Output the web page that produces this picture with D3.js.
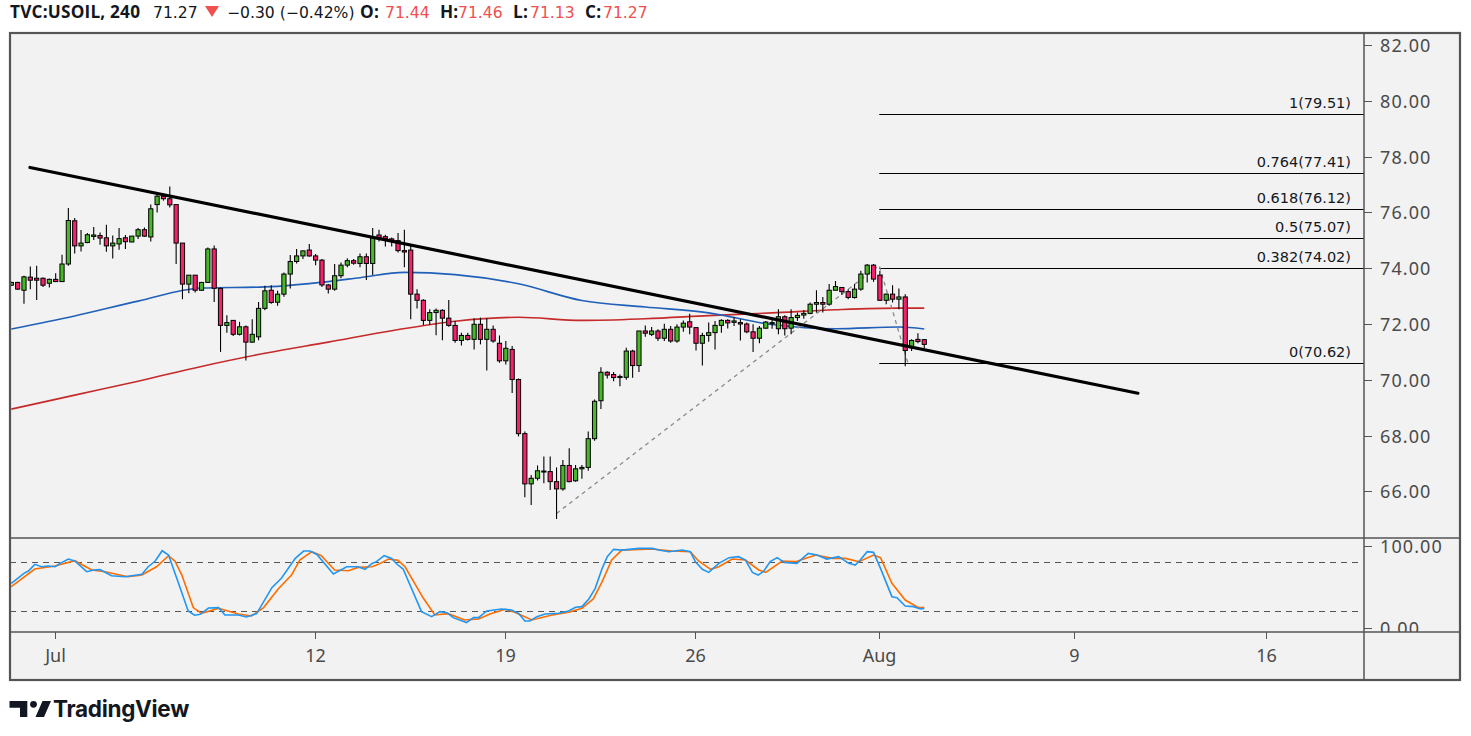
<!DOCTYPE html>
<html><head><meta charset="utf-8">
<script src="https://cdn.jsdelivr.net/npm/d3@7"></script>
<style>html,body{margin:0;padding:0;background:#fff;}svg{display:block;}</style>
</head><body>
<svg id="c" width="1471" height="736"></svg>
<script>
// ---------- DATA ----------
const opens  = [73.39,73.49,73.21,73.68,73.64,73.64,73.46,73.60,73.52,74.15,75.70,74.80,74.92,75.14,75.17,75.09,74.80,74.87,75.09,74.94,75.15,75.38,75.12,76.28,76.58,76.49,76.28,74.90,73.43,73.75,73.21,73.49,74.69,73.27,71.95,72.13,71.63,71.90,71.35,71.54,72.56,73.21,72.78,73.07,73.79,74.24,74.44,74.65,74.44,74.29,73.40,73.25,73.73,74.11,74.27,74.17,74.41,74.17,75.19,75.13,75.05,74.99,74.63,74.65,73.07,72.85,72.13,72.41,72.49,72.21,71.95,71.41,71.59,71.45,71.99,71.45,71.81,71.31,70.68,71.09,70.01,68.07,66.27,66.47,66.71,66.71,66.35,66.09,66.93,66.38,66.81,66.86,67.89,69.25,70.27,70.19,70.08,70.09,71.03,70.51,71.75,71.63,71.75,71.49,71.81,71.39,71.89,72.08,71.87,71.31,71.59,71.69,71.95,72.13,72.06,72.05,72.00,71.72,71.49,71.85,72.01,71.83,72.26,71.85,72.23,72.32,72.38,72.71,72.77,72.71,73.21,73.31,73.16,72.95,73.25,73.79,74.11,73.75,72.85,73.07,72.89,72.97,71.15,71.45,71.44];
const highs  = [73.51,73.51,73.73,74.06,74.09,73.67,73.63,73.82,74.48,76.16,75.80,75.37,75.26,75.48,75.28,75.56,75.17,75.44,75.19,75.15,75.44,75.46,76.28,76.67,76.67,76.93,76.28,74.90,73.75,73.75,73.51,74.74,74.81,73.31,72.31,72.13,72.08,71.95,72.17,72.79,73.37,73.39,73.19,73.85,74.47,74.69,74.63,74.87,74.51,74.33,73.43,74.15,74.20,74.36,74.33,74.53,74.53,75.44,75.38,75.20,75.10,75.26,75.38,74.81,73.25,72.89,72.53,72.56,72.53,72.86,72.11,71.69,71.69,72.21,72.23,72.21,71.95,71.59,71.39,71.21,70.05,68.15,66.59,66.93,67.25,67.25,66.86,67.13,67.55,66.95,66.95,68.15,69.29,70.45,70.31,70.28,70.19,71.15,71.08,71.75,71.95,71.89,71.81,72.01,71.93,71.99,72.13,72.37,71.89,71.69,72.05,72.11,72.17,72.17,72.25,72.17,72.05,71.99,71.93,72.11,72.19,72.53,72.31,72.53,72.41,72.50,72.77,73.21,72.97,73.43,73.54,73.33,73.25,73.43,73.91,74.15,74.15,73.91,73.09,73.39,73.27,73.07,71.45,71.67,71.46];
const lows   = [73.37,73.22,72.73,73.25,72.86,73.33,73.31,73.51,73.52,74.09,74.53,74.60,74.89,75.01,74.84,74.59,74.35,74.66,74.69,74.93,75.05,75.13,74.96,76.00,76.42,76.18,74.15,72.89,73.10,73.13,73.19,73.49,72.79,71.00,71.69,71.57,71.59,70.69,71.33,71.42,72.49,72.73,72.65,72.98,73.27,74.17,74.33,74.41,74.11,73.33,73.09,73.19,73.64,74.03,74.12,74.03,73.58,73.76,74.96,74.78,74.78,74.56,74.03,72.17,72.56,71.96,71.96,71.60,71.42,71.90,71.33,71.23,71.41,71.09,71.27,70.33,71.33,70.61,70.55,69.53,67.97,65.79,65.51,66.39,66.29,66.05,65.01,66.02,66.33,66.35,66.45,66.74,67.82,68.95,70.05,69.95,69.77,70.00,70.07,70.28,71.54,71.57,71.39,71.39,71.33,71.33,71.72,71.63,71.05,70.51,71.36,71.09,71.69,71.84,71.93,71.41,71.67,71.00,71.31,71.83,71.83,71.63,71.59,71.63,72.11,72.19,72.35,72.41,72.41,72.65,73.21,73.04,72.89,72.91,73.19,73.49,73.51,72.83,72.71,72.77,72.53,70.49,71.03,71.31,71.13];
const closes = [73.49,73.25,73.69,73.57,73.57,73.39,73.60,73.52,74.15,75.71,74.80,74.90,75.20,75.19,75.08,74.80,74.90,75.06,74.95,75.15,75.38,75.15,76.13,76.58,76.49,76.27,74.90,73.43,73.75,73.21,73.49,74.69,73.28,71.95,72.05,71.63,71.90,71.35,71.63,72.56,73.19,72.77,73.07,73.79,74.24,74.44,74.62,74.44,74.29,73.40,73.25,73.73,74.11,74.27,74.18,74.41,74.17,75.10,75.10,75.05,74.96,74.63,74.58,73.07,72.85,72.13,72.41,72.49,72.21,71.95,71.41,71.59,71.45,71.99,71.45,71.81,71.39,70.68,71.13,70.01,68.07,66.27,66.47,66.74,66.73,66.35,66.09,66.93,66.35,66.81,66.86,67.89,69.23,70.27,70.17,70.08,70.12,71.03,70.51,71.75,71.67,71.75,71.49,71.81,71.39,71.89,72.03,71.89,71.31,71.59,71.69,71.95,72.13,72.04,72.11,72.00,71.72,71.49,71.85,72.07,72.05,72.26,71.83,72.23,72.31,72.38,72.71,72.77,72.71,73.21,73.34,73.16,72.95,73.25,73.79,74.11,73.61,72.85,73.07,72.89,72.97,71.05,71.41,71.37,71.27];

// moving averages, sampled at candle indices
const blueIdx = [0,10,20,30,40,50,55,62,70,80,90,100,110,120,130,140,144];
const blueVal = [71.82,72.29,72.82,73.29,73.33,73.52,73.66,73.85,73.77,73.44,72.84,72.61,72.40,71.98,71.83,71.89,71.82];
const redIdx  = [0,10,20,30,40,50,60,70,80,90,100,110,120,130,140,144];
const redVal  = [68.95,69.45,69.95,70.48,70.95,71.35,71.76,72.10,72.24,72.13,72.19,72.30,72.40,72.51,72.57,72.57];

// stochastic %K and %D (index, value)
const kIdx = [0,2,2.7,3.7,4.8,5.8,6.9,7.7,9,10,11.9,13,14,15.8,17.9,20.6,21.6,22.7,23.8,24.8,26.1,27.9,28.9,29.8,31.1,32.7,33.7,35.8,37.1,38.7,41.1,42.6,44.8,46.1,47.1,48.2,50.8,52.9,54.7,55.8,56.9,57.6,58.8,60,60.8,61.8,64.7,66.3,67.6,68.7,69.7,71.8,72.9,73.7,75,77.3,78.9,80,81,81.8,82.9,84.2,86.3,87.9,89,90,91.1,92.1,93.2,94,95,96.3,99,101.1,102.1,103.7,105.8,107.1,107.9,109,110,111.6,113.2,114.7,115.8,116.9,117.8,118.7,119.7,120.8,121.9,123.9,125.7,127.1,128.6,130.5,132.1,133.1,133.9,135,136,137.1,138.9,139.7,141,142.3,143.4,144];
const kVal = [54.2,66.5,69.3,77.5,74.6,75.5,74.6,78.7,84,81.6,68.5,70.6,71,63.6,62.4,65.3,74.6,81.6,94.2,88.9,60.4,20.4,15.1,16.3,24,24.5,15.5,15.5,13,17.1,48.9,60.4,84.8,93.8,93.8,89.7,65.7,74.6,74.6,71.4,78.7,80.8,88.1,84.8,77.9,71.8,19.6,13.4,19.6,18.3,12.2,6.1,12.2,12.2,20.4,22.8,21.6,17.5,8.1,8.1,13.4,16.7,17.5,20.4,24.9,25.7,35.1,48.1,72.6,86.9,95.9,95,97.1,97.1,95,93,95,93,80.8,71.4,67.7,78.7,85.7,86.9,82.8,67.7,64.4,69.3,80.8,85.7,79.9,78.7,91,88.9,84,86.9,78.7,76.7,82.8,93,92.2,72.6,37.9,36.7,26.5,25.7,22.8,23.6];
const dIdx = [0,3.7,6.9,10,12.7,14.8,18.4,20.6,22.9,24.8,25.8,26.9,28.7,30,32.7,35.8,37.9,39.8,42.1,44.2,45.5,47.4,48.9,51,53.2,54.7,56.9,57.9,59.5,61,62.1,65,66.8,68.9,71.5,73.7,75.5,77.9,79.4,82.1,85.3,87.9,90,91.8,93.2,94.7,96.3,101.1,104.2,107.1,108.4,110.3,111.6,113.7,115.8,117.9,119,121.6,123.7,126.9,129.5,131.6,133.7,136,137.1,138.9,141,143.1,144];
const dVal = [50.1,71.8,75.5,82,70.6,68.5,62.4,64.4,74.6,88.1,81.6,64.4,24.5,17.5,23.6,16.7,14.3,24.5,47.3,64.4,82.8,93,88.1,70.6,69.7,73.8,74.6,77.5,84,82.4,74.6,35.9,15.5,17.1,9.4,10.6,16.7,22.4,18.7,9.4,15.5,18.7,23.6,35.1,56.3,82.8,95,96.3,93.8,93,81.6,71.4,74.6,84,82.8,70.6,67.7,81.6,80.8,88.9,84.8,84.8,80.8,88.9,85.7,54.2,33.8,24.5,24.5];

// drawings
const trendIdx = [2.95, 177.7];
const trendVal = [77.61, 69.52];
const fibPathIdx = [86, 136.9, 141.4];
const fibPathVal = [65.21, 74.10, 70.62];
const fibLevels = [0, 0.382, 0.5, 0.618, 0.764, 1];
const fibPrices = [70.62, 74.02, 75.07, 76.12, 77.41, 79.51];
const fibStartIdx = 136.9;

// axes
const priceTicks = [66,68,70,72,74,76,78,80,82];
const stochTicks = [0,100];
const stochBands = [20,80];
const dateTickIdx = [6.9, 47.9, 77.9, 107.8, 136.9, 167.6, 197.9];
const dateTickLabels = ["Jul","12","19","26","Aug","9","16"];

// header
const symbol = "TVC:USOIL, 240";
const lastPrice = "71.27";
const change = "\u22120.30 (\u22120.42%)";
const ohlcLabels = ["O:","H:","L:","C:"];
const ohlcValues = ["71.44","71.46","71.13","71.27"];

// ---------- LAYOUT ----------
const L = 10, R = 1364, FR = 1460, T = 33, PB = 538, SB = 632, B = 680;
const svg = d3.select("#c");
const UP = "#48b828", DOWN = "#f5216a";
const AXC = "#555";
const FONT = "'Noto Sans', 'Open Sans', sans-serif";

const x = d3.scaleLinear().domain([-0.205, 213.36]).range([L, R]);
const y = d3.scaleLinear().domain([64.33, 82.43]).range([PB, T]);
const ys = d3.scaleLinear().domain([0, 100]).range([627.6, 546]);

// frame background
svg.append("rect").attr("x", L).attr("y", T).attr("width", FR - L).attr("height", B - T)
  .attr("fill", "#f2f2f2");

const defs = svg.append("defs");
defs.append("clipPath").attr("id", "cp").append("rect")
  .attr("x", L).attr("y", T).attr("width", R - L).attr("height", PB - T);
defs.append("clipPath").attr("id", "cs").append("rect")
  .attr("x", L).attr("y", PB).attr("width", R - L).attr("height", SB - PB);
defs.append("clipPath").attr("id", "ca").append("rect")
  .attr("x", R).attr("y", PB).attr("width", FR - R).attr("height", SB - PB);

// ---------- PRICE PANE ----------
const gp = svg.append("g").attr("clip-path", "url(#cp)");

// moving averages
const ma = d3.line().curve(d3.curveMonotoneX);
gp.append("path").attr("d", ma(redIdx.map((d, i) => [x(d), y(redVal[i])])))
  .attr("fill", "none").attr("stroke", "#c62a2a").attr("stroke-width", 1.6);
gp.append("path").attr("d", ma(blueIdx.map((d, i) => [x(d), y(blueVal[i])])))
  .attr("fill", "none").attr("stroke", "#2160b8").attr("stroke-width", 1.6);

// fib levels
fibPrices.forEach((p, i) => {
  gp.append("line").attr("x1", x(fibStartIdx)).attr("x2", R)
    .attr("y1", Math.round(y(p)) + 0.5).attr("y2", Math.round(y(p)) + 0.5)
    .attr("stroke", "#000").attr("stroke-width", 1);
  gp.append("text").attr("x", R - 13).attr("y", Math.round(y(p)) - 6)
    .attr("text-anchor", "end").attr("font-family", "'DejaVu Sans', sans-serif")
    .attr("font-size", 14.5).attr("fill", "#131722")
    .text(`${fibLevels[i]}(${p.toFixed(2)})`);
});

// fib dashed path
gp.append("path").attr("d", d3.line()(fibPathIdx.map((d, i) => [x(d), y(fibPathVal[i])])))
  .attr("fill", "none").attr("stroke", "#8a8a8a").attr("stroke-width", 1.3)
  .attr("stroke-dasharray", "4,4");

// candles
const idx = d3.range(opens.length);
const cg = gp.append("g");
cg.selectAll("line.w").data(idx).join("line")
  .attr("x1", i => x(i)).attr("x2", i => x(i))
  .attr("y1", i => y(highs[i])).attr("y2", i => y(lows[i]))
  .attr("stroke", "#000").attr("stroke-width", 1.1);
cg.selectAll("rect.b").data(idx).join("rect")
  .attr("x", i => x(i) - 2.1).attr("width", 4.2)
  .attr("y", i => y(Math.max(opens[i], closes[i])))
  .attr("height", i => Math.max(1, Math.abs(y(opens[i]) - y(closes[i]))))
  .attr("fill", i => closes[i] >= opens[i] ? UP : DOWN)
  .attr("stroke", "#000").attr("stroke-width", 1);

// trend line
gp.append("line")
  .attr("x1", x(trendIdx[0])).attr("y1", y(trendVal[0]))
  .attr("x2", x(trendIdx[1])).attr("y2", y(trendVal[1]))
  .attr("stroke", "#000").attr("stroke-width", 3.2).attr("stroke-linecap", "round");

// price axis
const pa = svg.append("g");
priceTicks.forEach(t => {
  const yy = Math.round(y(t)) + 0.5;
  pa.append("line").attr("x1", R).attr("x2", R + 8).attr("y1", yy).attr("y2", yy)
    .attr("stroke", AXC).attr("stroke-width", 1);
  pa.append("text").attr("x", R + 16).attr("y", yy).attr("dy", "0.36em")
    .attr("font-family", FONT).attr("font-size", 18).attr("letter-spacing", 1.1)
    .attr("fill", "#4a4a4a").text(t.toFixed(2));
});

// ---------- STOCH PANE ----------
const gs = svg.append("g").attr("clip-path", "url(#cs)");
stochBands.forEach(b => {
  gs.append("line").attr("x1", L).attr("x2", R - 6)
    .attr("y1", Math.round(ys(b)) + 0.5).attr("y2", Math.round(ys(b)) + 0.5)
    .attr("stroke", "#555").attr("stroke-width", 1.2).attr("stroke-dasharray", "6,5");
});
const sl = d3.line();
gs.append("path").attr("d", sl(dIdx.map((d, i) => [x(d), ys(dVal[i])])))
  .attr("fill", "none").attr("stroke", "#ff6d00").attr("stroke-width", 1.6);
gs.append("path").attr("d", sl(kIdx.map((d, i) => [x(d), ys(kVal[i])])))
  .attr("fill", "none").attr("stroke", "#2196f3").attr("stroke-width", 1.6);

const sa = svg.append("g").attr("clip-path", "url(#ca)");
stochTicks.forEach(t => {
  const yy = Math.round(ys(t)) + 0.5;
  sa.append("line").attr("x1", R).attr("x2", R + 8).attr("y1", yy).attr("y2", yy)
    .attr("stroke", AXC).attr("stroke-width", 1);
  sa.append("text").attr("x", R + 16).attr("y", yy).attr("dy", "0.36em")
    .attr("font-family", FONT).attr("font-size", 18).attr("letter-spacing", 1.1)
    .attr("fill", "#4a4a4a").text(t.toFixed(2));
});

// ---------- DATE AXIS ----------
const da = svg.append("g");
dateTickIdx.forEach((d, i) => {
  const xx = Math.round(x(d)) + 0.5;
  da.append("line").attr("x1", xx).attr("x2", xx).attr("y1", SB).attr("y2", SB + 7)
    .attr("stroke", AXC).attr("stroke-width", 1);
  da.append("text").attr("x", xx).attr("y", 662).attr("text-anchor", "middle")
    .attr("font-family", FONT).attr("font-size", 18).attr("fill", "#4a4a4a")
    .text(dateTickLabels[i]);
});

// separators and frame
const sep = svg.append("g").attr("stroke", AXC).attr("fill", "none");
sep.append("line").attr("x1", L).attr("x2", FR).attr("y1", PB).attr("y2", PB).attr("stroke-width", 1.5);
sep.append("line").attr("x1", L).attr("x2", FR).attr("y1", SB).attr("y2", SB).attr("stroke-width", 1.5);
sep.append("line").attr("x1", R).attr("x2", R).attr("y1", T).attr("y2", B).attr("stroke-width", 1.5);
sep.append("rect").attr("x", L).attr("y", T).attr("width", FR - L).attr("height", B - T).attr("stroke-width", 2.2);

// ---------- HEADER ----------
const hy = 17.5;
const bold = { "font-family": "'Open Sans', sans-serif", "font-size": 17.2, "font-weight": 700, "letter-spacing": 0.2 };
const norm = { "font-family": "'DejaVu Sans', sans-serif", "font-size": 15.6 };
function htext(xp, txt, style, color) {
  const t = svg.append("text").attr("x", xp).attr("y", hy).attr("fill", color).text(txt);
  Object.entries(style).forEach(([k, v]) => t.attr(k, v));
}
htext(10, symbol, bold, "#131722");
htext(153, lastPrice, norm, "#131722");
svg.append("path").attr("d", "M205,6 L219,6 L212,17 Z").attr("fill", "#f0504f");
htext(227, change, norm, "#131722");
const lx = [360, 440, 513, 585], vx = [385, 458, 530, 603];
ohlcLabels.forEach((l, i) => {
  htext(lx[i], l, bold, "#131722");
  htext(vx[i], ohlcValues[i], norm, "#f0504f");
});

// ---------- LOGO ----------
const lg = svg.append("g").attr("fill", "#131722");
lg.append("path").attr("d", "M9.5,701 L27.3,701 L27.3,717 L20,717 L20,707.7 L9.5,707.7 Z");
lg.append("circle").attr("cx", 33.5).attr("cy", 704.3).attr("r", 3.4);
lg.append("path").attr("d", "M42.5,701 L51,701 L44,717 L35.5,717 Z");
lg.append("text").attr("x", 53).attr("y", 717).attr("font-family", "Inter, 'Open Sans', sans-serif")
  .attr("font-weight", 700).attr("font-size", 22.5).attr("letter-spacing", -0.3).text("TradingView");
</script>
</body></html>
